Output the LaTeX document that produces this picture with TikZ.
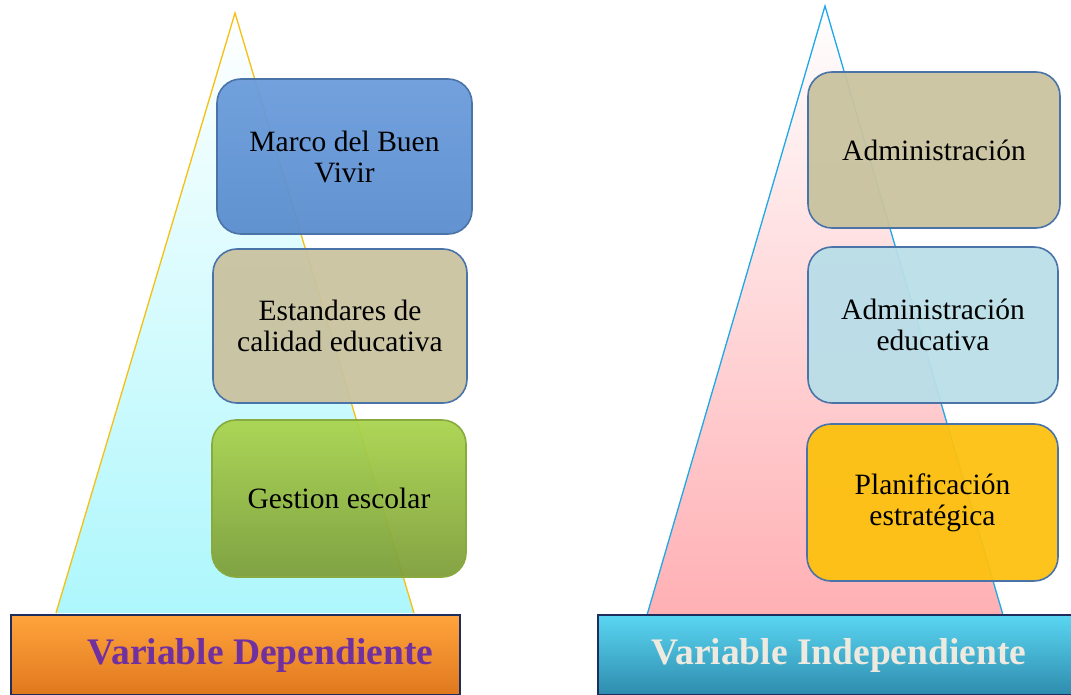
\documentclass[tikz,border=0pt]{standalone}
\usepackage{fontspec}
\setmainfont{Liberation Serif}
\begin{document}
\begin{tikzpicture}[x=1pt,y=-1pt,
  box/.style={draw=boxborder, line width=1.6pt, rounded corners=24pt, fill opacity=0.95, text opacity=1,
    align=center, font=\fontsize{29.5}{31}\selectfont, text=black, inner sep=0pt},
  bar/.style={draw=navy, line width=2pt, inner sep=0pt, font=\fontsize{37.5}{40}\selectfont\bfseries}]
\definecolor{boxborder}{HTML}{4A73A8}
\definecolor{navy}{HTML}{1E2D5C}
\definecolor{yel}{HTML}{F5C010}
\definecolor{sky}{HTML}{1DA8E8}
\definecolor{cyanfill}{HTML}{ADF7FC}
\definecolor{pinkfill}{HTML}{FFB0B4}
\definecolor{blueA}{HTML}{6A9CDC}
\definecolor{blueB}{HTML}{5A8DCE}
\definecolor{tan}{HTML}{C9C3A0}
\definecolor{greenA}{HTML}{AAD44E}
\definecolor{greenB}{HTML}{7E9E3A}
\definecolor{lblue}{HTML}{B9DEE8}
\definecolor{gold}{HTML}{FCC110}
\definecolor{orangeA}{HTML}{FFA43C}
\definecolor{orangeB}{HTML}{E0781E}
\definecolor{cyanA}{HTML}{5AD6F2}
\definecolor{cyanB}{HTML}{2E8CAE}
\definecolor{purp}{HTML}{7030A0}
\definecolor{offwhite}{HTML}{EEEAE0}
\useasboundingbox (0,0) rectangle (1071,695);
% triangles
\coordinate (la) at (235,13);
\coordinate (lb) at (56,613);
\coordinate (lc) at (414,613);
\shade[top color=white, bottom color=cyanfill] (la) -- (lb) -- (lc) -- cycle;
\draw[yel, line width=1.3pt, line join=miter] (lb) -- (la) -- (lc);
\coordinate (ra) at (825,6);
\coordinate (rb) at (647,615);
\coordinate (rc) at (1003,615);
\shade[top color=white, bottom color=pinkfill] (ra) -- (rb) -- (rc) -- cycle;
\draw[sky, line width=1.3pt, line join=miter] (rb) -- (ra) -- (rc);
% bars
\node[bar, minimum width=449pt, minimum height=80pt, anchor=north west, top color=orangeA, bottom color=orangeB, text=purp]
  (dep) at (10,614) {\hspace*{50pt}\raisebox{3pt}{Variable Dependiente}};
\node[bar, minimum width=480pt, minimum height=80pt, anchor=north west, top color=cyanA, bottom color=cyanB, text=offwhite]
  (ind) at (597,614) {\hspace*{2pt}\raisebox{3pt}{Variable Independiente}};
% left boxes
\node[box, minimum width=255pt, minimum height=155pt, top color=blueA, bottom color=blueB] (b1) at (344.5,156.5) {Marco del Buen\\Vivir};
\node[box, minimum width=254pt, minimum height=154pt, fill=tan] (b2) at (340,326) {Estandares de\\calidad educativa};
\node[box, draw=greenA!80!black, minimum width=254pt, minimum height=157pt, top color=greenA, bottom color=greenB] (b3) at (339,498.5) {Gestion escolar};
% right boxes
\node[box, minimum width=252pt, minimum height=156pt, fill=tan] (r1) at (934,150) {Administración};
\node[box, minimum width=250pt, minimum height=156pt, fill=lblue] (r2) at (933,325) {Administración\\educativa};
\node[box, minimum width=251pt, minimum height=157pt, fill=gold] (r3) at (932.5,502.5) {Planificación\\estratégica};
\end{tikzpicture}
\end{document}
